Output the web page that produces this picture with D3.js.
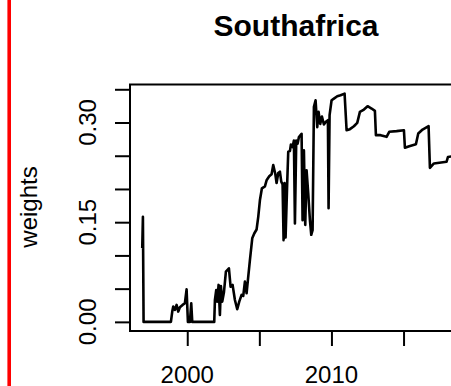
<!DOCTYPE html>
<html>
<head>
<meta charset="utf-8">
<script src="https://cdn.jsdelivr.net/npm/d3@7"></script>
<style>
  html, body { margin: 0; padding: 0; background: #fff; }
  svg { display: block; }
  text { font-family: "Liberation Sans", Arial, sans-serif; fill: #000; }
</style>
</head>
<body>
<svg id="chart" width="451" height="386"></svg>
<script>
// ---- data ----
const title = "Southafrica";
const yLabel = "weights";
const years = [
  1996.879, 1996.926, 1996.972, 1998.867, 1998.960, 1999.029, 1999.145, 1999.260, 1999.376, 1999.491,
  1999.676, 1999.838, 1999.954, 2000.046, 2000.185, 2000.277, 2000.347, 2001.872, 2001.919, 2002.011,
  2002.080, 2002.173, 2002.265, 2002.335, 2002.427, 2002.543, 2002.681, 2002.890, 2003.005, 2003.144,
  2003.306, 2003.467, 2003.606, 2003.768, 2003.883, 2003.999, 2004.115, 2004.230, 2004.346, 2004.508,
  2004.646, 2004.808, 2004.924, 2005.039, 2005.178, 2005.386, 2005.502, 2005.687, 2005.848, 2005.964,
  2006.103, 2006.195, 2006.311, 2006.426, 2006.519, 2006.611, 2006.681, 2006.750, 2006.819, 2006.935,
  2007.004, 2007.120, 2007.189, 2007.305, 2007.397, 2007.467, 2007.559, 2007.651, 2007.744, 2007.929,
  2007.998, 2008.091, 2008.183, 2008.276, 2008.391, 2008.507, 2008.599, 2008.692, 2008.784, 2008.900,
  2009.015, 2009.108, 2009.223, 2009.339, 2009.478, 2009.616, 2009.755, 2009.801, 2009.871, 2010.009,
  2010.171, 2010.402, 2010.633, 2010.911, 2011.050, 2011.281, 2011.558, 2011.789, 2011.974, 2012.252,
  2012.506, 2012.783, 2013.014, 2013.084, 2013.407, 2013.823, 2014.008, 2014.517, 2015.026, 2015.095,
  2015.395, 2015.858, 2016.020, 2016.320, 2016.736, 2016.829, 2017.106, 2017.985, 2018.078, 2018.355
];
const weights = [
  0.111, 0.158, 0.000, 0.000, 0.0155, 0.023, 0.018, 0.0255, 0.0155, 0.022,
  0.0255, 0.028, 0.049, 0.000, 0.000, 0.028, 0.000, 0.000, 0.033, 0.048,
  0.0305, 0.0556, 0.0105, 0.054, 0.0305, 0.044, 0.0756, 0.0806, 0.053, 0.0556,
  0.033, 0.019, 0.0305, 0.0406, 0.039, 0.0606, 0.043, 0.068, 0.093, 0.1257,
  0.133, 0.139, 0.158, 0.183, 0.201, 0.204, 0.213, 0.219, 0.222, 0.236,
  0.223, 0.209, 0.224, 0.226, 0.211, 0.207, 0.123, 0.209, 0.127, 0.211,
  0.256, 0.257, 0.267, 0.263, 0.273, 0.148, 0.273, 0.268, 0.278, 0.283,
  0.153, 0.258, 0.146, 0.228, 0.193, 0.153, 0.131, 0.138, 0.3235, 0.3335,
  0.293, 0.316, 0.298, 0.309, 0.297, 0.301, 0.3035, 0.171, 0.311, 0.3335,
  0.336, 0.3395, 0.341, 0.3435, 0.2884, 0.290, 0.2944, 0.2995, 0.316, 0.3195,
  0.3245, 0.321, 0.3175, 0.281, 0.281, 0.2784, 0.286, 0.287, 0.2884, 0.262,
  0.2644, 0.2674, 0.2834, 0.2894, 0.2944, 0.2318, 0.2384, 0.241, 0.248, 0.249
];
const yTicks = [0.00, 0.05, 0.10, 0.15, 0.20, 0.25, 0.30, 0.35];
const yTickLabels = [0.00, 0.15, 0.30];
const xTicks = [2000, 2005, 2010, 2015];
const xTickLabels = [2000, 2010];

// ---- layout ----
const svg = d3.select("#chart");
const plot = { left: 130, top: 84.5, right: 460, bottom: 331 };

const x = d3.scaleLinear().domain([1996.03, 2018.915]).range([plot.left, plot.right]);
const y = d3.scaleLinear().domain([-0.01374, 0.3572]).range([plot.bottom, plot.top]);

// red bar at left edge
svg.append("rect").attr("x", 7.4).attr("y", 0).attr("width", 3.6).attr("height", 386).attr("fill", "#ff0000");

// title
svg.append("text").attr("x", 296).attr("y", 36).attr("text-anchor", "middle")
  .style("font-size", "30px").style("font-weight", "bold").text(title);

// clip
svg.append("clipPath").attr("id", "clip").append("rect")
  .attr("x", plot.left).attr("y", plot.top).attr("width", plot.right - plot.left).attr("height", plot.bottom - plot.top);

// data line
const data = years.map((d, i) => ({ t: d, v: weights[i] }));
svg.append("path").datum(data)
  .attr("clip-path", "url(#clip)")
  .attr("fill", "none").attr("stroke", "#000").attr("stroke-width", 2.6)
  .attr("stroke-linejoin", "round")
  .attr("d", d3.line().x(d => x(d.t)).y(d => y(d.v)));

// box
svg.append("rect").attr("x", plot.left).attr("y", plot.top)
  .attr("width", plot.right - plot.left).attr("height", plot.bottom - plot.top)
  .attr("fill", "none").attr("stroke", "#000").attr("stroke-width", 2);

// y axis
const yAxis = d3.axisLeft(y).tickValues(yTicks).tickSize(15).tickFormat("");
const gy = svg.append("g").attr("transform", `translate(${plot.left},0)`).call(yAxis);
gy.select(".domain").remove();
gy.selectAll(".tick line").attr("stroke", "#000").attr("stroke-width", 2);
yTickLabels.forEach(v => {
  svg.append("text").attr("transform", `translate(96,${y(v)}) rotate(-90)`)
    .attr("text-anchor", "middle").style("font-size", "24px").text(d3.format(".2f")(v));
});

// x axis
const xAxis = d3.axisBottom(x).tickValues(xTicks).tickSize(15).tickFormat("");
const gx = svg.append("g").attr("transform", `translate(0,${plot.bottom})`).call(xAxis);
gx.select(".domain").remove();
gx.selectAll(".tick line").attr("stroke", "#000").attr("stroke-width", 2);
xTickLabels.forEach(v => {
  svg.append("text").attr("x", x(v)).attr("y", 382.5).attr("text-anchor", "middle")
    .style("font-size", "24px").text(String(v));
});

// y label
svg.append("text").attr("transform", `translate(37,207) rotate(-90)`)
  .attr("text-anchor", "middle").style("font-size", "24px").text(yLabel);
</script>
</body>
</html>
